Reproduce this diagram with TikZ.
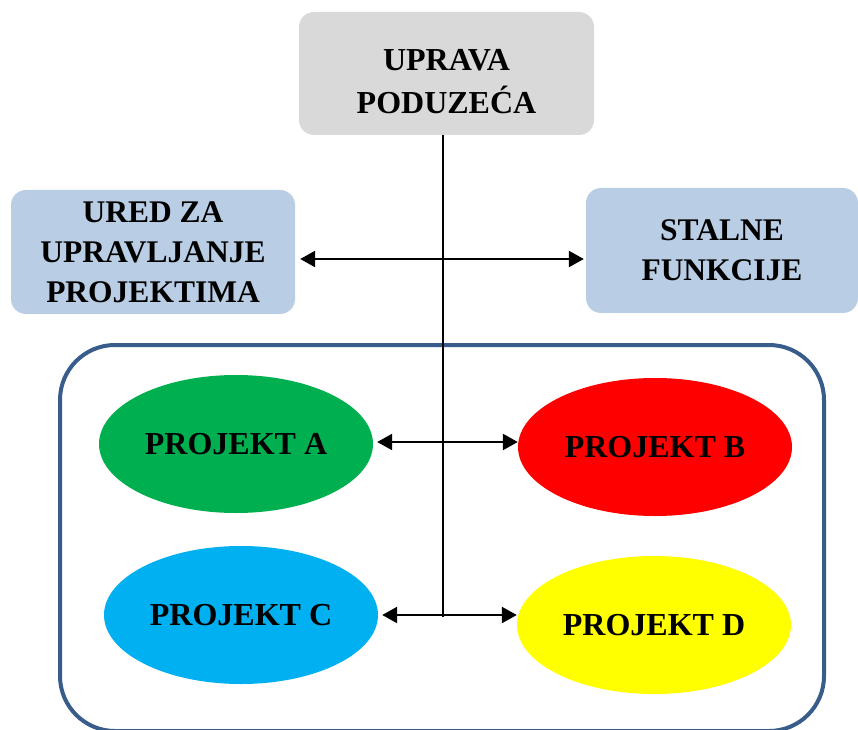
\documentclass[tikz,border=0pt]{standalone}
\usepackage{fontspec}
\setmainfont{Liberation Serif}
\usetikzlibrary{shapes.geometric,arrows.meta}
\definecolor{upravagray}{HTML}{D9D9D9}
\definecolor{uredblue}{HTML}{B9CDE5}
\definecolor{frameblue}{HTML}{385D8A}
\definecolor{projgreen}{HTML}{00B050}
\definecolor{projred}{HTML}{FF0000}
\definecolor{projcyan}{HTML}{00B0F0}
\definecolor{projyellow}{HTML}{FFFF00}
\tikzstyle{box}=[rectangle, rounded corners=15pt, text centered, align=center, text=black, inner sep=0pt, font=\fontsize{31.5}{40}\selectfont\bfseries]
\tikzstyle{projekt}=[ellipse, minimum width=274pt, minimum height=138pt, inner sep=0pt, text=black, font=\fontsize{32}{40}\selectfont\bfseries]
\tikzset{>={Triangle[length=15pt,width=16pt]}}

\begin{document}
\begin{tikzpicture}[x=1pt, y=1pt]
    \useasboundingbox (0,0) rectangle (858,729);

        % okvir projekata
        \draw [frameblue, line width=4pt, rounded corners=55pt] (60,-2) rectangle (824,384);

        \node (uprava)[box, fill=upravagray, minimum width=295pt, minimum height=123pt, text height=80pt, font=\fontsize{32}{43}\selectfont\bfseries] at (446.5,655.5) {UPRAVA\\PODUZEĆA};
        \node (ured)[box, fill=uredblue, minimum width=284pt, minimum height=124pt] at (153,477) {URED ZA\\UPRAVLJANJE\\PROJEKTIMA};
        \node (stalne)[box, fill=uredblue, minimum width=272pt, minimum height=125pt] at (722,478.5) {STALNE\\FUNKCIJE};

        \node (projA)[projekt, fill=projgreen] at (236,285) {PROJEKT A};
        \node (projB)[projekt, fill=projred] at (655,282) {PROJEKT B};
        \node (projC)[projekt, fill=projcyan] at (241,114) {PROJEKT C};
        \node (projD)[projekt, fill=projyellow] at (654,104) {PROJEKT D};

        \coordinate (hub) at (443,112);
        \draw [line width=2pt] (uprava.south -| hub) -- (hub);

        \draw [<->, line width=2.4pt, shorten <=5pt, shorten >=2pt] ([yshift=-7pt]ured.east) -- ([yshift=-7pt]ured.east -| stalne.west);
        \draw [<->, line width=2.4pt, shorten <=4pt] ([yshift=2pt]projA.east) -- ([yshift=2pt]projA.east -| projB.west);
        \draw [<->, line width=2.4pt, shorten <=4pt] (projC.east) -- (projC.east -| projD.west);

\end{tikzpicture}
\end{document}
